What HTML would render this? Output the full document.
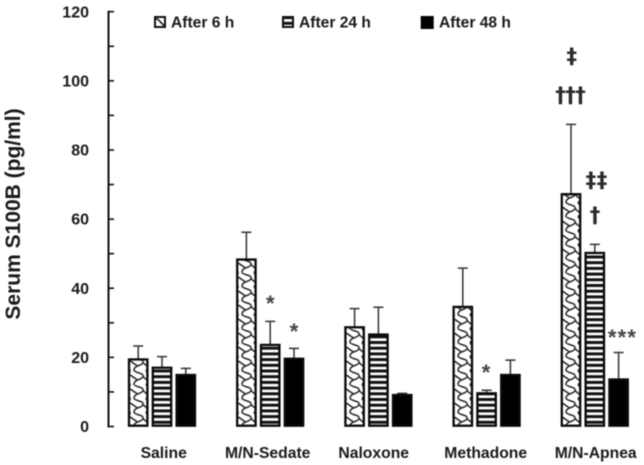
<!DOCTYPE html>
<html>
<head>
<meta charset="utf-8">
<style>
html,body{margin:0;padding:0;background:#fff;width:644px;height:465px;overflow:hidden}
svg{display:block;filter:blur(0.4px)}
text{font-family:"Liberation Sans",sans-serif;font-weight:bold;fill:#1a1a1a}
.ast{font-size:22px;fill:#444}
.dag{font-family:"DejaVu Sans",sans-serif;font-size:21px;fill:#2a2a2a}
</style>
</head>
<body>
<svg id="chart" xmlns="http://www.w3.org/2000/svg" width="644" height="465" viewBox="0 0 644 465">
<defs>
<pattern id="wave" patternUnits="userSpaceOnUse" width="21.6" height="14" patternTransform="translate(128 426.5)">
<rect width="21.6" height="14" fill="#fff"/>
<path d="M6,0 C8,3 16,2 15,6 C14,10 6,8 6,14 M0,4 C3,4 5,7 9,9 M15,6 C17,8 19,10 21.6,11 M0,11 C1,12 2,13 2,14 M2,0 C2,2 1,3 0,4 M21.6,4 C20,3 19,2 18,0 M18,14 C19,13 20,12 21.6,11" fill="none" stroke="#222" stroke-width="1.5"/>
</pattern>
<pattern id="stripe" patternUnits="userSpaceOnUse" width="10" height="5.7" patternTransform="translate(0 426.5)">
<rect width="10" height="5.7" fill="#fff"/>
<rect y="0" width="10" height="3" fill="#111"/>
</pattern>
<pattern id="wave-small" patternUnits="userSpaceOnUse" width="12" height="12" patternTransform="translate(154 17)">
<rect width="12" height="12" fill="#fff"/>
<path d="M1,2 C5,1 6,6 11,9" fill="none" stroke="#111" stroke-width="1.5"/>
</pattern>
</defs>
<g id="y-axis"></g>
<g id="bars"></g>
<g id="x-labels"></g>
<text transform="translate(20 214) rotate(-90)" text-anchor="middle" style="font-size:21px">Serum S100B (pg/ml)</text>
<g>
<rect x="155" y="17" width="10" height="10" fill="url(#wave-small)" stroke="#111" stroke-width="2"/>
<text x="171" y="27.7" style="font-size:15.6px">After 6 h</text>
<rect x="283" y="17" width="10" height="10" fill="url(#stripe)" stroke="#111" stroke-width="2"/>
<text x="299" y="27.7" style="font-size:15.6px">After 24 h</text>
<rect x="420.7" y="16" width="13" height="13" fill="#000"/>
<text x="439" y="27.7" style="font-size:15.6px">After 48 h</text>
</g>
<g>
<text class="ast" x="270.3" y="311" text-anchor="middle">*</text>
<text class="ast" x="294" y="339" text-anchor="middle">*</text>
<text class="ast" x="486" y="380" text-anchor="middle">*</text>
<text class="ast" x="622.5" y="345" text-anchor="middle" style="letter-spacing:1.2px">***</text>
<text class="dag" x="571.7" y="63" text-anchor="middle">‡</text>
<text class="dag" x="570.3" y="102" text-anchor="middle" style="letter-spacing:-0.5px">†††</text>
<text class="dag" x="596.7" y="187" text-anchor="middle" style="letter-spacing:0.6px">‡‡</text>
<text class="dag" x="595" y="222" text-anchor="middle">†</text>
</g>
</svg>
<script>
const categories = ["Saline", "M/N-Sedate", "Naloxone", "Methadone", "M/N-Apnea"];
const seriesNames = ["After 6 h", "After 24 h", "After 48 h"];
const after6h = [19.4, 48.3, 28.7, 34.6, 67.2];
const after24h = [17, 23.6, 26.6, 9.6, 50.2];
const after48h = [14.9, 19.6, 9.1, 14.9, 13.6];
const errTop6h = [23.3, 56.2, 34.1, 45.8, 87.4];
const errTop24h = [20.2, 30.4, 34.5, 10.5, 52.7];
const errTop48h = [16.8, 22.6, 9.6, 19.2, 21.4];
const yTickLabels = [0, 20, 40, 60, 80, 100, 120];
const yMinorTicks = [10, 30, 50, 70, 90, 110];

const NS = "http://www.w3.org/2000/svg";
const y = v => 426.5 - v * (414.8 / 120);
const groupCenter = i => 162 + i * 108.2;
const labelCenter = i => 163.7 + i * 108;
const barX = (i, s) => groupCenter(i) - 33 + s * 23.8;
const barW = 18.4;
function mk(tag, attrs, parent) {
  const el = document.createElementNS(NS, tag);
  for (const k in attrs) el.setAttribute(k, attrs[k]);
  parent.appendChild(el);
  return el;
}
const axis = document.getElementById("y-axis");
const axisLine = mk("line", {x1: 108.5, x2: 108.5, y1: y(120) - 1, y2: y(0) + 1, stroke: "#111", "stroke-width": 2}, axis);


yTickLabels.concat(yMinorTicks).forEach(v => {
  const t = mk("line", {x1: 108, x2: 114, y1: y(v), y2: y(v), stroke: "#111", "stroke-width": 1.6}, axis);
  
  
});
yTickLabels.forEach(v => {
  const t = mk("text", {x: 89, y: y(v), "text-anchor": "end", style: "font-size:16px"}, axis);
  t.setAttribute('dy', '0.35em');
  
  
  t.textContent = v;
});
const bars = document.getElementById("bars");
const values = [after6h, after24h, after48h];
const errs = [errTop6h, errTop24h, errTop48h];
const fills = ["url(#wave)", "url(#stripe)", "#000"];
categories.forEach((c, i) => {
  values.forEach((vals, s) => {
    const x = barX(i, s);
    const cx = x + barW / 2;
    const err = mk("path", {d: `M${cx},${y(vals[i])}V${y(errs[s][i])}M${cx - 5},${y(errs[s][i])}H${cx + 5}`, fill: "none", stroke: "#333", "stroke-width": 1.5}, bars);
    
    
    const r = mk("rect", {x: x, y: y(vals[i]), width: barW, height: y(0) - 0.8 - y(vals[i]), fill: fills[s], stroke: "#0a0a0a", "stroke-width": 2.3}, bars);
    
    
    r.setAttribute('aria-label', c + " " + seriesNames[s]);
  });
});
const xl = document.getElementById("x-labels");
categories.forEach((c, i) => {
  const t = mk("text", {x: labelCenter(i) - (i === 1 ? 4 : 0) - (i === 2 ? 6 : 0) - (i === 3 ? 2 : 0), y: 458, "text-anchor": "middle", style: "font-size:15.7px"}, xl);
  
  
  t.textContent = c;
});
</script>
</body>
</html>
